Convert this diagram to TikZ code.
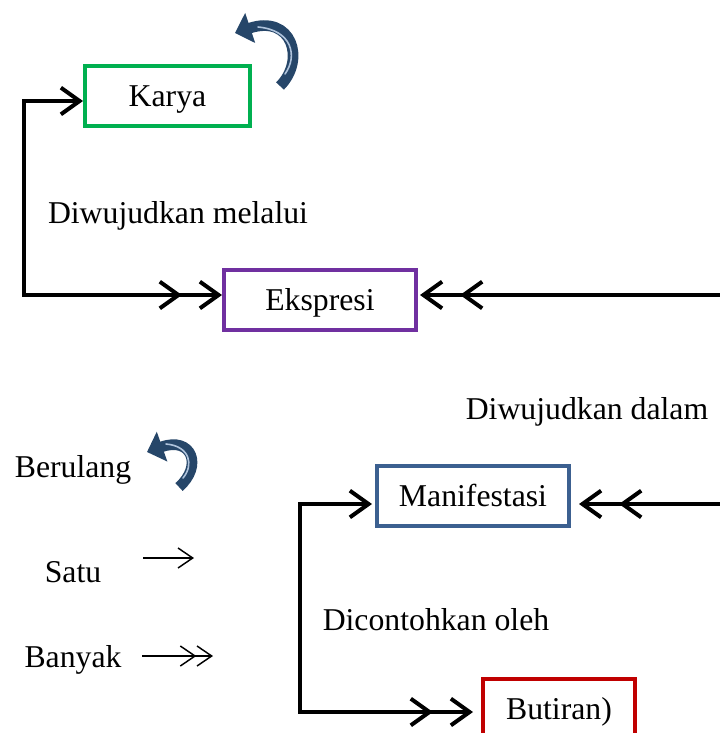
\documentclass[tikz,border=0pt]{standalone}
\usepackage{fontspec}
\setmainfont{Liberation Serif}
\usetikzlibrary{arrows.meta,calc}
\definecolor{cgreen}{HTML}{00B050}
\definecolor{cpurple}{HTML}{7030A0}
\definecolor{cblue}{HTML}{3C6090}
\definecolor{cred}{HTML}{C00000}
\definecolor{cdark}{HTML}{264669}
\definecolor{clight}{HTML}{AFC3DC}
\tikzset{
  box/.style={draw, line width=3pt, inner sep=0pt, minimum height=45pt, text height=16pt, text depth=0pt},
  lbl/.style={inner sep=0pt},
  conn/.style={line width=3pt},
  sgl/.tip={Straight Barb[length=14pt,width=20pt]},
  dbl/.tip={Straight Barb[length=14pt,width=20pt,sep=12pt]Straight Barb[length=14pt,width=20pt]},
  curv/.style={line width=8pt, cdark, -{Triangle[length=12pt,width=23pt]}},
  hilite/.style={line width=1.2pt, clight, line cap=round},
  thin/.style={line width=1.1pt},
  thintip/.tip={Straight Barb[length=11pt,width=15pt]},
}
\begin{document}
\begin{tikzpicture}[x=0.75pt,y=-0.75pt,font=\fontsize{23.8}{28}\selectfont]
\useasboundingbox (0,0) rectangle (720,733);
% boxes
\node[box, draw=cgreen, minimum width=123.75pt] (kar) at (167.5,96) {Karya};
\node[box, draw=cpurple, minimum width=144pt] (eks) at (320,300) {Ekspresi};
\node[box, draw=cblue, minimum width=144pt] (man) at (473,496) {Manifestasi};
\node[box, draw=cred, minimum width=114pt] (but) at (559,709) {Butiran)};
% labels
\node[lbl] (t1) at (178,216) {Diwujudkan melalui};
\node[lbl] (t2) at (587,412) {Diwujudkan dalam};
\node[lbl] (t3) at (436,620) {Dicontohkan oleh};
\node[lbl] (l1) at (73,470) {Berulang};
\node[lbl] (l2) at (73,572) {Satu};
\node[lbl] (l3) at (73,660) {Banyak};
% connector coordinates
\coordinate (k1) at (24,101);
\coordinate (k2) at (24,295);
\coordinate (e1) at (720,295);
\coordinate (m1) at (720,504);
\coordinate (c1) at (300,504);
\coordinate (c2) at (300,712);
% connectors
\draw[conn, {sgl}-{dbl}] ($(kar.west)+(0,5)$) -- (k1) -- (k2) -- ($(eks.west)+(0,-5)$);
\draw[conn, -{dbl}] (e1) -- ($(eks.east)+(2,-5)$);
\draw[conn, -{dbl}] (m1) -- ($(man.east)+(8,8)$);
\draw[conn, {sgl}-{dbl}] ($(man.west)+(-3,8)$) -- (c1) -- (c2) -- ($(but.west)+(-8,3)$);
% curved arrows
\coordinate (a1) at (280,86);
\coordinate (a2) at (235,33);
\draw[curv] (a1) .. controls (306,60) and (292,14) .. (a2);
\draw[hilite] (285,74) .. controls (298,56) and (292,30) .. (258,27);
\coordinate (b1) at (179,487);
\coordinate (b2) at (147,452);
\draw[curv] (b1) .. controls (203,466) and (192,436) .. (b2);
\draw[hilite] (183,478) .. controls (194,465) and (190,446) .. (166,444);
% legend arrows
\coordinate (s1) at (143,558);
\coordinate (s2) at (194,558);
\draw[thin, -{thintip}] (s1) -- (s2);
\coordinate (d1) at (142,656);
\coordinate (d2) at (213,656);
\draw[thin, -{Straight Barb[length=11pt,width=15pt,sep=0pt]Straight Barb[length=11pt,width=15pt]}] (d1) -- (d2);
\end{tikzpicture}
\end{document}
